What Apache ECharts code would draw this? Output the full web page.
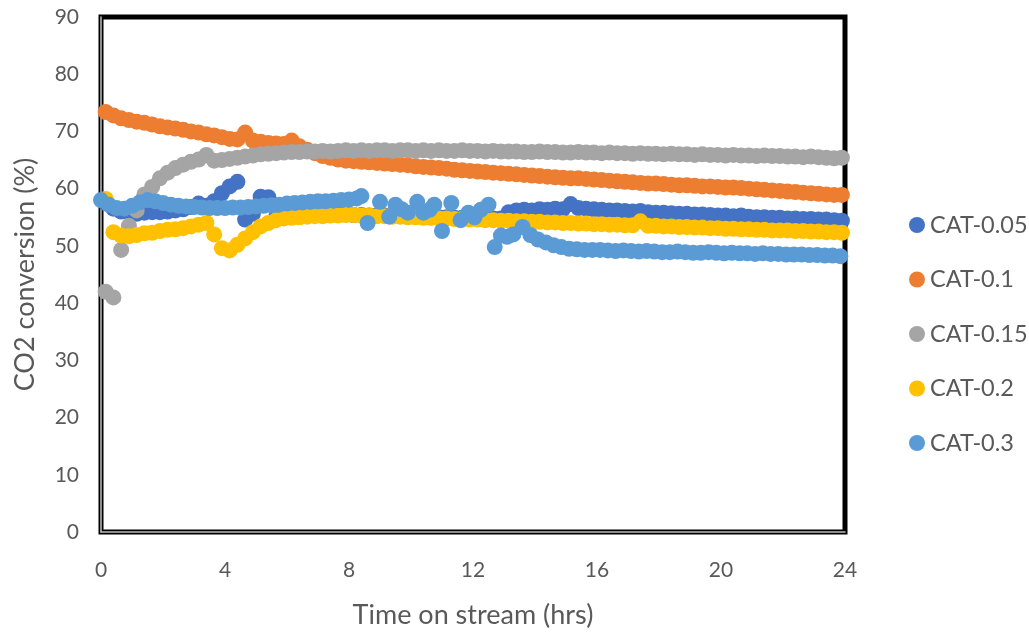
<!DOCTYPE html>
<html>
<head>
<meta charset="utf-8">
<script src="https://cdn.jsdelivr.net/npm/echarts@6/dist/echarts.min.js"></script>
<style>
  html, body { margin: 0; padding: 0; background: #fff; }
  #chart { width: 1029px; height: 639px; }
</style>
</head>
<body>
<div id="chart"></div>
<script>
// Sampling times (hrs) shared by CAT-0.05, CAT-0.1, CAT-0.15 and CAT-0.2
const hours = [
  0.15, 0.40, 0.65, 0.90, 1.15, 1.40, 1.65, 1.90, 2.15, 2.40, 2.65, 2.90,
  3.15, 3.40, 3.65, 3.90, 4.15, 4.40, 4.65, 4.90, 5.15, 5.40, 5.65, 5.90,
  6.15, 6.40, 6.65, 6.90, 7.15, 7.40, 7.65, 7.90, 8.15, 8.40, 8.65, 8.90,
  9.15, 9.40, 9.65, 9.90, 10.15, 10.40, 10.65, 10.90, 11.15, 11.40, 11.65, 11.90,
  12.15, 12.40, 12.65, 12.90, 13.15, 13.40, 13.65, 13.90, 14.15, 14.40, 14.65, 14.90,
  15.15, 15.40, 15.65, 15.90, 16.15, 16.40, 16.65, 16.90, 17.15, 17.40, 17.65, 17.90,
  18.15, 18.40, 18.65, 18.90, 19.15, 19.40, 19.65, 19.90, 20.15, 20.40, 20.65, 20.90,
  21.15, 21.40, 21.65, 21.90, 22.15, 22.40, 22.65, 22.90, 23.15, 23.40, 23.65, 23.90
];

// CO2 conversion (%)
const cat005 = [
  57.5, 56.5, 56.0, 55.8, 55.6, 55.8, 55.9, 55.9, 56.0, 56.2, 56.4, 56.8,
  57.4, 57.0, 57.8, 59.2, 60.4, 61.2, 54.6, 55.6, 58.6, 58.5, 55.0, 55.2,
  55.3, 55.4, 55.4, 55.5, 55.5, 55.6, 55.5, 55.5, 55.4, 55.4, 55.3, 55.3,
  55.3, 55.2, 55.2, 55.2, 55.1, 55.1, 55.0, 55.0, 55.0, 54.9, 54.9, 54.9,
  54.9, 54.8, 54.8, 54.8, 55.9, 56.2, 56.3, 56.2, 56.4, 56.3, 56.5, 56.4,
  57.3, 56.6, 56.5, 56.4, 56.3, 56.2, 56.2, 56.1, 56.0, 56.1, 55.9, 55.8,
  55.8, 55.7, 55.6, 55.6, 55.5, 55.5, 55.4, 55.3, 55.3, 55.2, 55.3, 55.1,
  55.0, 55.0, 54.9, 54.9, 54.8, 54.8, 54.7, 54.7, 54.6, 54.6, 54.5, 54.4
];

const cat01 = [
  73.4, 72.8, 72.3, 72.0, 71.7, 71.5, 71.2, 70.9, 70.7, 70.5, 70.3, 70.0,
  69.8, 69.5, 69.3, 69.0, 68.7, 68.6, 69.8, 68.4, 68.2, 68.0, 67.9, 67.8,
  68.4, 67.4, 66.8, 66.2, 65.7, 65.4, 65.1, 64.9, 64.8, 64.7, 64.6, 64.5,
  64.4, 64.3, 64.2, 64.1, 63.9, 63.8, 63.7, 63.6, 63.5, 63.3, 63.2, 63.1,
  63.0, 62.9, 62.8, 62.7, 62.6, 62.5, 62.4, 62.3, 62.2, 62.1, 62.0, 61.9,
  61.8, 61.8, 61.7, 61.6, 61.5, 61.4, 61.3, 61.2, 61.1, 61.0, 60.9, 60.9,
  60.8, 60.7, 60.6, 60.6, 60.5, 60.4, 60.4, 60.3, 60.2, 60.2, 60.1, 60.0,
  59.9, 59.8, 59.7, 59.6, 59.5, 59.4, 59.3, 59.2, 59.1, 59.0, 58.9, 58.9
];

const cat015 = [
  42.0, 41.0, 49.3, 53.5, 56.2, 59.0, 60.3, 61.8, 62.8, 63.6, 64.2, 64.7,
  65.1, 65.9, 64.9, 65.0, 65.2, 65.4, 65.6, 65.8, 66.0, 66.1, 66.2, 66.3,
  66.4, 66.4, 66.5, 66.5, 66.6, 66.5, 66.6, 66.7, 66.6, 66.7, 66.6, 66.7,
  66.7, 66.6, 66.7, 66.7, 66.6, 66.7, 66.6, 66.7, 66.6, 66.6, 66.7, 66.6,
  66.6, 66.5, 66.6, 66.5, 66.5, 66.5, 66.4, 66.4, 66.5, 66.4, 66.4, 66.3,
  66.3, 66.4, 66.3, 66.3, 66.2, 66.3, 66.2, 66.2, 66.1, 66.2, 66.1, 66.1,
  66.0, 66.1, 66.0, 66.0, 65.9, 66.0, 65.9, 65.9, 65.8, 65.9, 65.8, 65.8,
  65.7, 65.8, 65.7, 65.7, 65.6, 65.6, 65.5, 65.6, 65.5, 65.4, 65.3, 65.4
];

const cat02 = [
  58.2, 52.4, 51.8, 51.7, 51.9, 52.2, 52.3, 52.6, 52.8, 52.9, 53.1, 53.4,
  53.7, 54.0, 52.0, 49.6, 49.2, 50.2, 51.3, 52.4, 53.4, 54.0, 54.5, 54.8,
  54.9, 55.0, 55.1, 55.2, 55.2, 55.3, 55.3, 55.4, 55.4, 55.3, 55.3, 55.2,
  55.2, 55.1, 55.1, 55.0, 55.0, 54.9, 54.9, 54.8, 54.8, 54.7, 54.7, 54.6,
  54.6, 54.5, 54.5, 54.4, 54.4, 54.3, 54.3, 54.2, 54.2, 54.1, 54.1, 54.0,
  54.0, 53.9, 53.9, 53.8, 53.8, 53.7, 53.7, 53.6, 53.6, 54.3, 53.5, 53.5,
  53.4, 53.4, 53.3, 53.3, 53.2, 53.2, 53.1, 53.1, 53.0, 53.0, 52.9, 52.9,
  52.8, 52.8, 52.7, 52.7, 52.7, 52.6, 52.6, 52.5, 52.5, 52.4, 52.4, 52.3
];

// CAT-0.3 was logged on its own schedule
const hours03 = [
  0.00, 0.25, 0.50, 0.75, 1.00, 1.25, 1.50, 1.75, 2.00, 2.25, 2.50, 2.75,
  3.00, 3.25, 3.50, 3.75, 4.00, 4.25, 4.50, 4.75, 5.00, 5.25, 5.50, 5.75,
  6.00, 6.25, 6.50, 6.75, 7.00, 7.25, 7.50, 7.75, 8.00, 8.25, 8.40,
  8.60, 9.00, 9.30, 9.50, 9.70, 9.90, 10.20, 10.40, 10.60, 10.75, 11.00,
  11.30, 11.60, 11.85, 12.05, 12.25, 12.50, 12.70, 12.90, 13.10, 13.30, 13.60,
  13.85, 14.10, 14.35, 14.60, 14.85, 15.10, 15.35, 15.60, 15.85, 16.10, 16.35,
  16.60, 16.85, 17.10, 17.35, 17.60, 17.85, 18.10, 18.35, 18.60, 18.85, 19.10,
  19.35, 19.60, 19.85, 20.10, 20.35, 20.60, 20.85, 21.10, 21.35, 21.60, 21.85,
  22.10, 22.35, 22.60, 22.85, 23.10, 23.35, 23.60, 23.85
];
const cat03 = [
  58.0, 57.2, 56.6, 56.5, 57.0, 57.6, 58.0, 57.8, 57.5, 57.2, 57.0, 56.9,
  56.8, 56.7, 56.6, 56.6, 56.6, 56.7, 56.7, 56.8, 56.9, 57.0, 57.1, 57.2,
  57.4, 57.5, 57.6, 57.7, 57.8, 57.8, 57.9, 58.0, 58.1, 58.3, 58.7,
  54.0, 57.7, 55.1, 57.2, 56.4, 55.8, 57.7, 55.8, 56.3, 57.2, 52.6,
  57.5, 54.5, 55.8, 55.0, 56.3, 57.2, 49.8, 51.8, 51.6, 52.0, 53.3,
  51.9, 51.1, 50.6, 50.1, 49.8, 49.5, 49.4, 49.3, 49.3, 49.3, 49.2,
  49.1, 49.2, 49.1, 49.0, 49.1, 49.0, 48.9, 48.9, 49.0, 48.9, 48.8,
  48.8, 48.9, 48.8, 48.7, 48.8, 48.7, 48.7, 48.6, 48.7, 48.6, 48.6,
  48.5, 48.5, 48.5, 48.4, 48.4, 48.3, 48.3, 48.2
];

const seriesNames = ['CAT-0.05', 'CAT-0.1', 'CAT-0.15', 'CAT-0.2', 'CAT-0.3'];
const seriesColors = ['#4472C4', '#ED7D31', '#A5A5A5', '#FFC000', '#5B9BD5'];
const xTicks = { min: 0, max: 24, step: 4 };
const yTicks = { min: 0, max: 90, step: 10 };

const pair = (xs, ys) => xs.map((x, i) => [x, ys[i]]);
const seriesData = [
  pair(hours, cat005),
  pair(hours, cat01),
  pair(hours, cat015),
  pair(hours, cat02),
  pair(hours03, cat03)
];

const FONT = 'Lato';
const TEXT = '#595959';

const chart = echarts.init(document.getElementById('chart'), null, { renderer: 'canvas' });
chart.setOption({
  animation: false,
  backgroundColor: '#fff',
  grid: {
    left: 101, right: 184, top: 17, bottom: 107,
    show: true, borderColor: '#000', borderWidth: 5, backgroundColor: 'transparent'
  },
  xAxis: {
    type: 'value', min: xTicks.min, max: xTicks.max, interval: xTicks.step,
    name: 'Time on stream (hrs)', nameLocation: 'middle', nameGap: 70,
    nameTextStyle: { fontFamily: FONT, fontSize: 27, color: TEXT },
    axisLine: { show: true, onZero: false, lineStyle: { color: '#bfbfbf', width: 1.5 } },
    axisTick: { show: false },
    splitLine: { show: false },
    axisLabel: { fontFamily: FONT, fontSize: 21, color: TEXT, margin: 28 }
  },
  yAxis: {
    type: 'value', min: yTicks.min, max: yTicks.max, interval: yTicks.step,
    name: 'CO2 conversion (%)', nameLocation: 'middle', nameGap: 62,
    nameTextStyle: { fontFamily: FONT, fontSize: 27, color: TEXT },
    axisLine: { show: true, onZero: false, lineStyle: { color: '#bfbfbf', width: 1.5 } },
    axisTick: { show: false },
    splitLine: { show: false },
    axisLabel: { fontFamily: FONT, fontSize: 21, color: TEXT, margin: 22 }
  },
  legend: {
    orient: 'vertical', left: 904, top: 208,
    icon: 'circle', itemWidth: 16, itemHeight: 16, itemGap: 30.5,
    textStyle: { fontFamily: FONT, fontSize: 23.5, color: TEXT },
    data: seriesNames
  },
  series: seriesNames.map((name, i) => ({
    name,
    type: 'scatter',
    data: seriesData[i],
    symbol: 'circle',
    symbolSize: 16,
    itemStyle: { color: seriesColors[i], opacity: 1 },
    clip: false
  }))
});
</script>
</body>
</html>
